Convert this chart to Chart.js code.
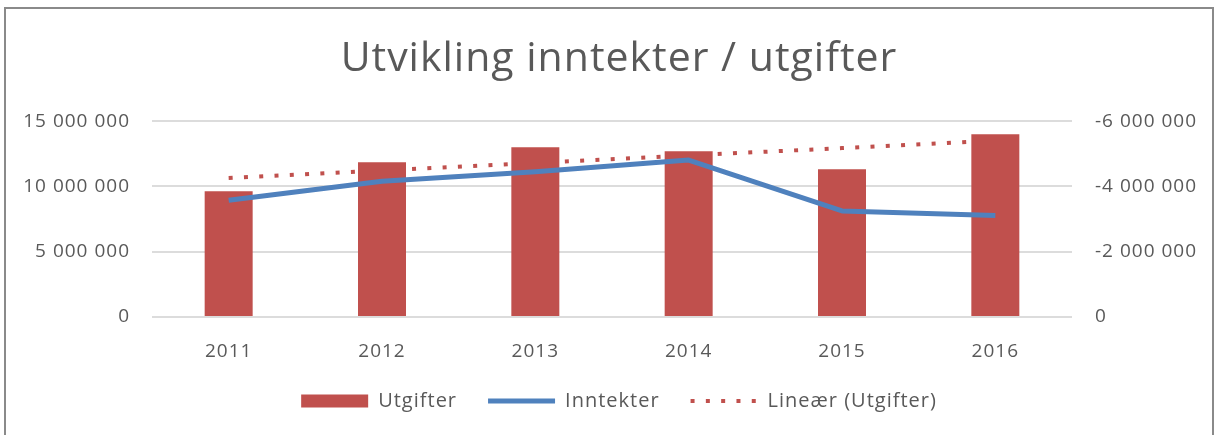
<!DOCTYPE html>
<html>
<head>
<meta charset="utf-8">
<title>Utvikling inntekter / utgifter</title>
<script src="https://cdn.jsdelivr.net/npm/chart.js@4.4.0/dist/chart.umd.min.js"></script>
<style>
    html, body { margin: 0; padding: 0; background: #ffffff; overflow: hidden; }
    #frame {
        position: absolute; left: 4px; top: 7px; width: 1210px; height: 440px;
        box-sizing: border-box; border: 2px solid #8a8a8a;
    }
    #chart { position: absolute; left: 0; top: 0; }
</style>
</head>
<body>
<div id="frame"></div>
<canvas id="chart" width="1215" height="435"></canvas>
<script>
// Data
const years = ['2011', '2012', '2013', '2014', '2015', '2016'];
const utgifter = [9640000, 11860000, 13000000, 12700000, 11320000, 14000000];
const inntekter = [-3580000, -4160000, -4450000, -4810000, -3250000, -3110000];
const linearUtgifter = [10650000, 11230000, 11800000, 12380000, 12940000, 13520000];

const leftTicks = [0, 5000000, 10000000, 15000000];
const rightTicks = [-6000000, -4000000, -2000000, 0];

const RED = '#C0504D';
const BLUE = '#4F81BD';
const TEXT = '#595959';

// "15 000 000" style numbers
function formatNumber(v) {
    const s = Math.abs(v).toString().replace(/\B(?=(\d{3})+(?!\d))/g, ' ');
    return (v < 0 ? '-' : '') + s;
}

// Office text is set a little looser than Open Sans, add some tracking
const letterSpacingPlugin = {
    id: 'letterSpacing',
    beforeUpdate: function(chart) { chart.ctx.letterSpacing = '1px'; },
    beforeDraw: function(chart) { chart.ctx.letterSpacing = '1px'; }
};

document.addEventListener('DOMContentLoaded', function() {
    Chart.defaults.font.family = '"Open Sans", sans-serif';
    Chart.defaults.color = TEXT;
    initializeChart();
});

function initializeChart() {
    const ctx = document.getElementById('chart');

    new Chart(ctx, {
        plugins: [letterSpacingPlugin],
        data: {
            labels: years,
            datasets: [{
                type: 'bar',
                label: 'Utgifter',
                data: utgifter,
                backgroundColor: RED,
                yAxisID: 'y',
                order: 2,
                barPercentage: 1,
                categoryPercentage: 0.313
            }, {
                type: 'line',
                label: 'Inntekter',
                data: inntekter,
                borderColor: BLUE,
                backgroundColor: BLUE,
                borderWidth: 5,
                borderJoinStyle: 'round',
                pointRadius: 0,
                tension: 0,
                yAxisID: 'y1',
                order: 1
            }, {
                type: 'line',
                label: 'Lineær (Utgifter)',
                data: linearUtgifter,
                borderColor: RED,
                borderWidth: 4,
                borderDash: [4, 11.3],
                borderCapStyle: 'butt',
                pointRadius: 0,
                tension: 0,
                yAxisID: 'y',
                order: 3
            }]
        },
        options: {
            responsive: false,
            animation: false,
            layout: {
                padding: { left: 23, top: 0, right: 0, bottom: 14 }
            },
            plugins: {
                tooltip: { enabled: false },
                title: {
                    display: true,
                    text: 'Utvikling inntekter / utgifter',
                    color: TEXT,
                    font: { size: 41, weight: 'normal', lineHeight: 1.2 },
                    padding: { top: 35, bottom: 37 }
                },
                legend: {
                    position: 'bottom',
                    labels: {
                        color: TEXT,
                        font: { size: 20 },
                        usePointStyle: true,
                        pointStyleWidth: 67,
                        boxHeight: 13,
                        padding: 31,
                        generateLabels: function() {
                            return [
                                { text: 'Utgifter', fillStyle: RED, strokeStyle: RED, lineWidth: 0,
                                  pointStyle: 'rect', datasetIndex: 0, fontColor: TEXT },
                                { text: 'Inntekter', fillStyle: BLUE, strokeStyle: BLUE, lineWidth: 5,
                                  pointStyle: 'line', lineCap: 'butt', datasetIndex: 1, fontColor: TEXT },
                                { text: 'Lineær (Utgifter)', fillStyle: RED, strokeStyle: RED, lineWidth: 4,
                                  lineDash: [4, 11.3], lineCap: 'butt', pointStyle: 'line', datasetIndex: 2, fontColor: TEXT }
                            ];
                        }
                    }
                }
            },
            scales: {
                x: {
                    offset: true,
                    grid: { display: false },
                    border: { display: false },
                    ticks: { font: { size: 19 }, padding: 15, color: TEXT, maxRotation: 0 },
                    afterFit: function(scale) { scale.height = 43; }
                },
                y: {
                    position: 'left',
                    min: 0,
                    max: 15000000,
                    afterBuildTicks: function(scale) {
                        scale.ticks = leftTicks.map(v => ({ value: v }));
                    },
                    grid: { color: '#dcdcdc', lineWidth: 2, drawTicks: false },
                    border: { display: false },
                    ticks: {
                        font: { size: 19 },
                        padding: 22,
                        color: TEXT,
                        callback: v => formatNumber(v)
                    },
                    afterFit: function(scale) { scale.width = 129; }
                },
                y1: {
                    position: 'right',
                    min: -6000000,
                    max: 0,
                    reverse: true,
                    afterBuildTicks: function(scale) {
                        scale.ticks = rightTicks.map(v => ({ value: v }));
                    },
                    grid: { display: false, drawTicks: false },
                    border: { display: false },
                    ticks: {
                        font: { size: 19 },
                        padding: 23,
                        color: TEXT,
                        callback: v => formatNumber(v)
                    },
                    afterFit: function(scale) { scale.width = 143; }
                }
            }
        }
    });
}
</script>
</body>
</html>
